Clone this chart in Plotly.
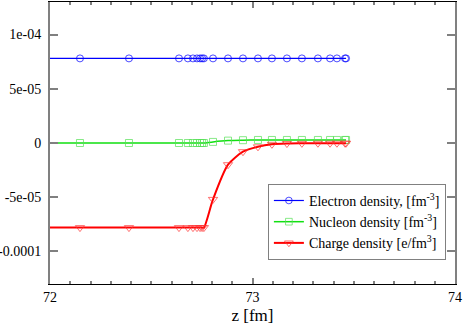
import plotly.graph_objects as go

# --- data ---
z_start = 72.0
z_pts = [72.148, 72.390, 72.637, 72.681, 72.706, 72.726, 72.741, 72.751, 72.760,
         72.805, 72.879, 72.953, 73.027, 73.096, 73.170, 73.244, 73.323, 73.383,
         73.417, 73.457, 73.462]
electron = [7.8e-5] * 21
nucleon = [0, 0, 0, 0, 0, 0, 0, 0, 0,
           1.0e-6, 2.2e-6, 2.6e-6, 2.8e-6, 2.8e-6, 2.8e-6, 2.8e-6, 2.8e-6, 2.8e-6,
           2.8e-6, 2.8e-6, 2.8e-6]
charge = [-7.8e-5, -7.8e-5, -7.8e-5, -7.8e-5, -7.8e-5, -7.8e-5, -7.8e-5, -7.8e-5, -7.8e-5,
          -5.2e-5, -2.0e-5, -8.0e-6, -3.5e-6, -1.2e-6, -5e-7, -3e-7, -2e-7, -2e-7,
          -2e-7, -2e-7, -2e-7]

ytick_vals = [1e-4, 5e-5, 0, -5e-5, -1e-4]
ytick_text = ["1e-04", "5e-05", "0", "-5e-05", "-0.0001"]
xtick_vals = [72, 73, 74]

series = [
    ("Electron density, [fm<sup>-3</sup>]", electron, "#0000ff", "#0000ff", "circle-open", 1.2, 7),
    ("Nucleon density [fm<sup>-3</sup>]", nucleon, "#11e011", "#55e055", "square-open", 1.5, 7),
    ("Charge density [e/fm<sup>3</sup>]", charge, "#ff0000", "#ff3333", "triangle-down-open", 2, 8),
]

fig = go.Figure()
for name, vals, lc, mc, sym, lw, ms in series:
    fig.add_trace(go.Scatter(
        x=[z_start] + z_pts, y=[vals[0]] + vals, name=name, mode="lines+markers",
        line=dict(color=lc, width=lw, shape="spline", smoothing=0.7),
        marker=dict(symbol=sym, color=mc, size=[0] + [ms] * len(vals), line=dict(width=1, color=mc))))

font = "Times New Roman"
fig.update_layout(
    width=463, height=325, margin=dict(l=50, r=8, t=2, b=41, autoexpand=False),
    paper_bgcolor="white", plot_bgcolor="white",
    font=dict(family=font, size=14, color="black"),
    xaxis=dict(range=[72, 74], tickvals=xtick_vals, ticks="inside", ticklen=6, tickcolor="gray",
               tickwidth=2, showline=True, linecolor="black", linewidth=1, mirror="allticks",
               showgrid=False, zeroline=False, automargin=False,
               tickfont=dict(family=font, size=14),
               minor=dict(dtick=0.1, tick0=72, ticks="inside", ticklen=3, tickcolor="gray", tickwidth=2),
               title=dict(text="z [fm]", font=dict(size=17, family=font), standoff=5)),
    yaxis=dict(range=[-1.3e-4, 1.3e-4], tickvals=ytick_vals, ticktext=ytick_text, ticks="inside",
               ticklen=8, tickcolor="gray", tickwidth=2, showline=True, linecolor="gray", linewidth=2,
               mirror="allticks", showgrid=False, zeroline=False, automargin=False,
               tickfont=dict(family=font, size=14), ticklabelstandoff=4),
    legend=dict(x=0.538, y=0.355, xanchor="left", yanchor="top", bordercolor="gray", borderwidth=1,
                bgcolor="white", font=dict(size=14, family=font), itemwidth=30, tracegroupgap=0),
)

# page body has an 8px default margin; drop it so the chart sits at the corner
fig.write_html("out.html", config={"displayModeBar": False},
               post_script="document.body.style.margin='0';")
